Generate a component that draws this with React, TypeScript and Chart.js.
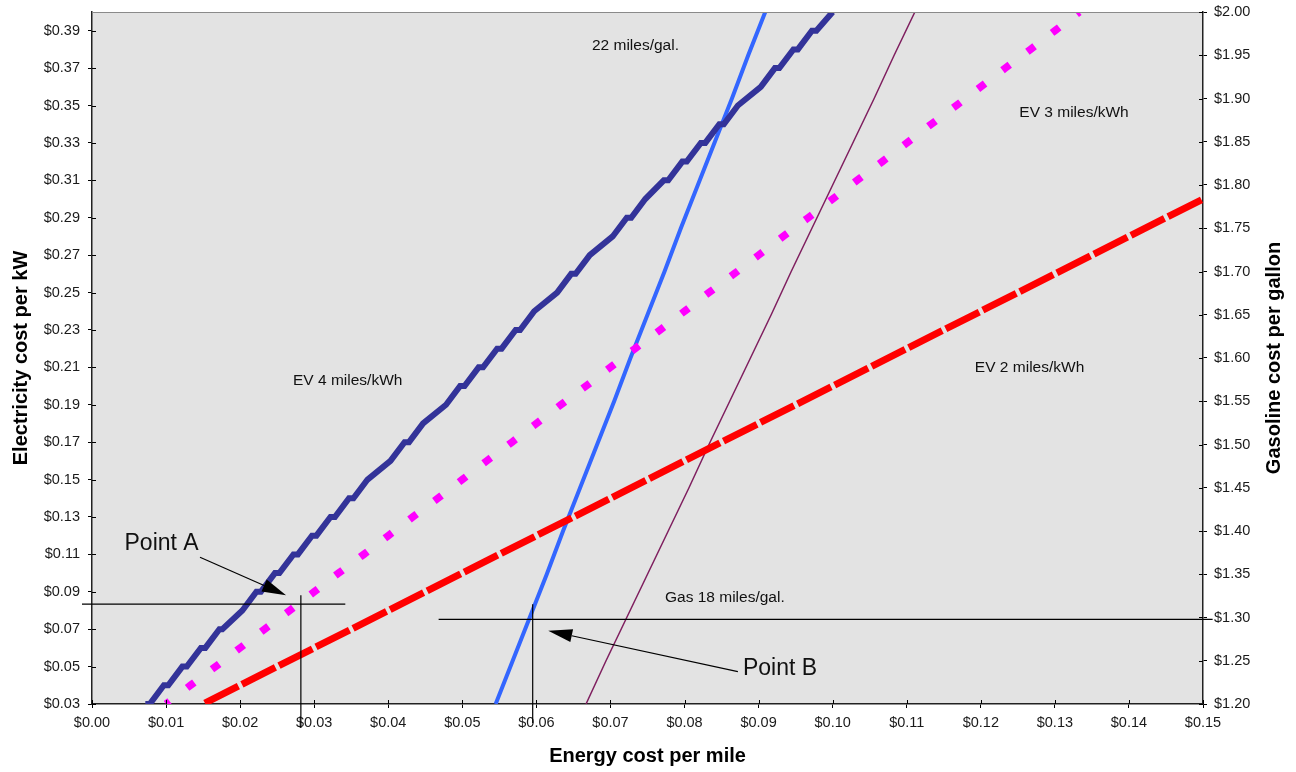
import React, { useEffect, useRef } from 'react';
import { Chart, registerables } from 'chart.js';

Chart.register(...registerables);

// ---------- axis ticks ----------
const xTicks = [0, 0.01, 0.02, 0.03, 0.04, 0.05, 0.06, 0.07, 0.08, 0.09, 0.1, 0.11, 0.12, 0.13, 0.14, 0.15];
const leftTicks = [0.03, 0.05, 0.07, 0.09, 0.11, 0.13, 0.15, 0.17, 0.19, 0.21, 0.23, 0.25, 0.27, 0.29, 0.31, 0.33, 0.35, 0.37, 0.39];
const rightTicks = [1.2, 1.25, 1.3, 1.35, 1.4, 1.45, 1.5, 1.55, 1.6, 1.65, 1.7, 1.75, 1.8, 1.85, 1.9, 1.95, 2.0];

// ---------- series: EV 4 miles/kWh  [cost per mile, electricity cost] ----------
const ev4Points: [number, number][] = [
  [0.0072, 0.03], [0.0078, 0.03], [0.0097, 0.04], [0.0103, 0.04], [0.0122, 0.05], [0.0128, 0.05],
  [0.0147, 0.06], [0.0153, 0.06], [0.0172, 0.07], [0.0176, 0.07], [0.0203, 0.08], [0.0222, 0.09],
  [0.0228, 0.09], [0.0247, 0.10], [0.0253, 0.10], [0.0272, 0.11], [0.0278, 0.11], [0.0297, 0.12],
  [0.0303, 0.12], [0.0322, 0.13], [0.0328, 0.13], [0.0347, 0.14], [0.0353, 0.14], [0.0372, 0.15],
  [0.0403, 0.16], [0.0422, 0.17], [0.0428, 0.17], [0.0447, 0.18], [0.0478, 0.19], [0.0497, 0.20],
  [0.0503, 0.20], [0.0522, 0.21], [0.0528, 0.21], [0.0547, 0.22], [0.0553, 0.22], [0.0572, 0.23],
  [0.0578, 0.23], [0.0597, 0.24], [0.0628, 0.25], [0.0647, 0.26], [0.0653, 0.26], [0.0672, 0.27],
  [0.0703, 0.28], [0.0722, 0.29], [0.0728, 0.29], [0.0747, 0.30], [0.0772, 0.31], [0.0778, 0.31],
  [0.0797, 0.32], [0.0803, 0.32], [0.0822, 0.33], [0.0828, 0.33], [0.0847, 0.34], [0.0853, 0.34],
  [0.0872, 0.35], [0.0903, 0.36], [0.0922, 0.37], [0.0928, 0.37], [0.0947, 0.38], [0.0953, 0.38],
  [0.0972, 0.39], [0.0978, 0.39], [0.1000, 0.40],
];

// ---------- EV 3 miles/kWh ----------
const ev3Cost = [0.03, 0.04, 0.05, 0.06, 0.07, 0.08, 0.09, 0.10, 0.11, 0.12, 0.13, 0.14, 0.15, 0.16, 0.17, 0.18, 0.19, 0.20, 0.21, 0.22, 0.23, 0.24, 0.25, 0.26, 0.27, 0.28, 0.29, 0.30, 0.31, 0.32, 0.33, 0.34, 0.35, 0.36, 0.37, 0.38, 0.39, 0.40];
const ev3Mile = [0.0100, 0.0133, 0.0167, 0.0200, 0.0233, 0.0267, 0.0300, 0.0333, 0.0367, 0.0400, 0.0433, 0.0467, 0.0500, 0.0533, 0.0567, 0.0600, 0.0633, 0.0667, 0.0700, 0.0733, 0.0767, 0.0800, 0.0833, 0.0867, 0.0900, 0.0933, 0.0967, 0.1000, 0.1033, 0.1067, 0.1100, 0.1133, 0.1167, 0.1200, 0.1233, 0.1267, 0.1300, 0.1333];

// ---------- EV 2 miles/kWh ----------
const ev2Cost = [0.03, 0.04, 0.05, 0.06, 0.07, 0.08, 0.09, 0.10, 0.11, 0.12, 0.13, 0.14, 0.15, 0.16, 0.17, 0.18, 0.19, 0.20, 0.21, 0.22, 0.23, 0.24, 0.25, 0.26, 0.27, 0.28, 0.29, 0.30];
const ev2Mile = [0.015, 0.020, 0.025, 0.030, 0.035, 0.040, 0.045, 0.050, 0.055, 0.060, 0.065, 0.070, 0.075, 0.080, 0.085, 0.090, 0.095, 0.100, 0.105, 0.110, 0.115, 0.120, 0.125, 0.130, 0.135, 0.140, 0.145, 0.150];

// ---------- gasoline cars (right axis) ----------
const gasPrice = [1.20, 1.25, 1.30, 1.35, 1.40, 1.45, 1.50, 1.55, 1.60, 1.65, 1.70, 1.75, 1.80, 1.85, 1.90, 1.95, 2.00];
const gas22Mile = [0.0545, 0.0568, 0.0591, 0.0614, 0.0636, 0.0659, 0.0682, 0.0705, 0.0727, 0.0750, 0.0773, 0.0795, 0.0818, 0.0841, 0.0864, 0.0886, 0.0909];
const gas18Mile = [0.0667, 0.0694, 0.0722, 0.0750, 0.0778, 0.0806, 0.0833, 0.0861, 0.0889, 0.0917, 0.0944, 0.0972, 0.1000, 0.1028, 0.1056, 0.1083, 0.1111];

const FONT = "'Liberation Sans', Arial, Helvetica, sans-serif";
const money = (v: any) => '$' + Number(v).toFixed(2);

const decorPlugin = {
  id: 'decor',
  beforeDraw(chart: any) {
    const { ctx, chartArea: a } = chart;
    ctx.save();
    ctx.fillStyle = '#E3E3E3';
    ctx.fillRect(a.left, a.top, a.right - a.left, a.bottom - a.top);
    ctx.restore();
  },
  afterDraw(chart: any) {
    const { ctx, chartArea: a, scales } = chart;
    const X = (v: number) => scales.x.getPixelForValue(v);
    const Y = (v: number) => scales.y.getPixelForValue(v);
    const Y2 = (v: number) => scales.y2.getPixelForValue(v);
    ctx.save();
    // top frame line
    ctx.strokeStyle = '#8a8a8a';
    ctx.lineWidth = 1.2;
    ctx.beginPath();
    ctx.moveTo(a.left, a.top + 0.5);
    ctx.lineTo(a.right, a.top + 0.5);
    ctx.stroke();
    // inner halves of tick marks
    ctx.strokeStyle = '#000';
    ctx.lineWidth = 1;
    ctx.beginPath();
    xTicks.forEach((v) => { const p = Math.round(X(v)) + 0.5; ctx.moveTo(p, a.bottom); ctx.lineTo(p, a.bottom - 4); });
    leftTicks.forEach((v) => { const p = Math.round(Y(v)) + 0.5; ctx.moveTo(a.left, p); ctx.lineTo(a.left + 4, p); });
    rightTicks.forEach((v) => { const p = Math.round(Y2(v)) + 0.5; ctx.moveTo(a.right, p); ctx.lineTo(a.right - 4, p); });
    ctx.stroke();

    // annotation lines
    const seg = (x1: number, y1: number, x2: number, y2: number) => {
      ctx.beginPath(); ctx.moveTo(x1, y1); ctx.lineTo(x2, y2); ctx.stroke();
    };
    const arrow = (x1: number, y1: number, x2: number, y2: number) => {
      const ang = Math.atan2(y2 - y1, x2 - x1);
      const len = 24, half = 6.5;
      const bx = x2 - len * Math.cos(ang), by = y2 - len * Math.sin(ang);
      seg(x1, y1, bx, by);
      ctx.beginPath();
      ctx.moveTo(x2, y2);
      ctx.lineTo(bx + half * Math.sin(ang), by - half * Math.cos(ang));
      ctx.lineTo(bx - half * Math.sin(ang), by + half * Math.cos(ang));
      ctx.closePath();
      ctx.fill();
    };
    ctx.strokeStyle = '#000';
    ctx.fillStyle = '#000';
    ctx.lineWidth = 1.2;
    // Point A guides
    seg(X(-0.00135), Y(0.0834), X(0.0342), Y(0.0834));
    seg(X(0.0282), Y(0.0882), X(0.0282), Y(0.0172));
    arrow(X(0.01458), Y(0.1085), X(0.0262), Y(0.0882));
    // Point B guides
    seg(X(0.0468), Y2(1.2978), X(0.1513), Y2(1.2978));
    seg(X(0.0595), Y(0.0833), X(0.0595), Y(0.0199));
    arrow(X(0.0872), Y2(1.2374), X(0.0616), Y2(1.2848));

    // text labels
    ctx.fillStyle = '#111';
    ctx.textAlign = 'left';
    ctx.textBaseline = 'alphabetic';
    ctx.font = `15.5px ${FONT}`;
    ctx.fillText('22 miles/gal.', X(0.0675), Y(0.3796));
    ctx.fillText('EV 4 miles/kWh', X(0.02714), Y(0.2004));
    ctx.fillText('EV 3 miles/kWh', X(0.1252), Y(0.3441));
    ctx.fillText('EV 2 miles/kWh', X(0.1192), Y(0.2075));
    ctx.fillText('Gas 18 miles/gal.', X(0.07736), Y(0.0848));
    ctx.font = `23px ${FONT}`;
    ctx.fillText('Point A', X(0.00439), Y(0.1125));
    ctx.fillText('Point B', X(0.08789), Y(0.0455));

    // axis titles
    ctx.fillStyle = '#000';
    ctx.font = `bold 20px ${FONT}`;
    ctx.textAlign = 'center';
    ctx.fillText('Energy cost per mile', (a.left + a.right) / 2, 762);
    ctx.save();
    ctx.translate(27, (a.top + a.bottom) / 2);
    ctx.rotate(-Math.PI / 2);
    ctx.fillText('Electricity cost per kW', 0, 0);
    ctx.restore();
    ctx.save();
    ctx.translate(1280, (a.top + a.bottom) / 2);
    ctx.rotate(-Math.PI / 2);
    ctx.fillText('Gasoline cost per gallon', 0, 0);
    ctx.restore();
    ctx.restore();
  },
};

export default function App() {
  const ref = useRef<HTMLCanvasElement | null>(null);
  useEffect(() => {
    if (!ref.current) return;
    const tickFont = { family: FONT, size: 14.5 };
    const chart = new Chart(ref.current, {
      type: 'line',
      data: {
        datasets: [
          {
            label: 'EV 4 miles/kWh',
            data: ev4Points.map(([x, y]) => ({ x, y })),
            yAxisID: 'y',
            borderColor: '#333399',
            borderWidth: 6,
            borderJoinStyle: 'miter',
            borderCapStyle: 'butt',
            clip: 0,
          },
          {
            label: 'EV 3 miles/kWh',
            data: ev3Mile.map((x, i) => ({ x, y: ev3Cost[i] })),
            yAxisID: 'y',
            borderColor: '#FF00FF',
            borderWidth: 7.5,
            borderDash: [9, 22],
            borderDashOffset: 4.5,
            borderCapStyle: 'butt',
            clip: 0,
          },
          {
            label: 'EV 2 miles/kWh',
            data: ev2Mile.map((x, i) => ({ x, y: ev2Cost[i] })),
            yAxisID: 'y',
            borderColor: '#FF0000',
            borderWidth: 7,
            borderDash: [37.5, 4],
            borderDashOffset: 39.5,
            borderCapStyle: 'butt',
            clip: 0,
          },
          {
            label: '22 miles/gal.',
            data: gas22Mile.map((x, i) => ({ x, y: gasPrice[i] })),
            yAxisID: 'y2',
            borderColor: '#3366FF',
            borderWidth: 4,
            clip: 0,
          },
          {
            label: 'Gas 18 miles/gal.',
            data: gas18Mile.map((x, i) => ({ x, y: gasPrice[i] })),
            yAxisID: 'y2',
            borderColor: '#7F1F5F',
            borderWidth: 1.5,
            clip: 0,
          },
        ] as any,
      },
      options: {
        animation: false,
        responsive: false,
        devicePixelRatio: 1,
        layout: { padding: { top: 12, left: 0, right: 0, bottom: 0 } },
        elements: { point: { radius: 0, hoverRadius: 0 }, line: { tension: 0 } },
        plugins: { legend: { display: false }, tooltip: { enabled: false } },
        events: [],
        scales: {
          x: {
            type: 'linear',
            min: 0,
            max: 0.15,
            afterBuildTicks: (s: any) => { s.ticks = xTicks.map((v) => ({ value: v })); },
            afterFit: (s: any) => { s.height = 68; s.paddingLeft = 0; s.paddingRight = 0; },
            ticks: { callback: money, font: tickFont, color: '#1a1a1a', padding: 6, autoSkip: false, maxRotation: 0 },
            grid: { drawOnChartArea: false, drawTicks: true, tickLength: 4, color: '#000' },
            border: { color: '#222', width: 1.5 },
          },
          y: {
            type: 'linear',
            position: 'left',
            min: 0.03,
            max: 0.40,
            afterBuildTicks: (s: any) => { s.ticks = leftTicks.map((v) => ({ value: v })); },
            afterFit: (s: any) => { s.width = 92; s.paddingTop = 0; s.paddingBottom = 0; },
            ticks: { callback: money, font: tickFont, color: '#1a1a1a', padding: 8, autoSkip: false },
            grid: { drawOnChartArea: false, drawTicks: true, tickLength: 4, color: '#000' },
            border: { color: '#222', width: 1.5 },
          },
          y2: {
            type: 'linear',
            position: 'right',
            min: 1.2,
            max: 2.0,
            afterBuildTicks: (s: any) => { s.ticks = rightTicks.map((v) => ({ value: v })); },
            afterFit: (s: any) => { s.width = 93; s.paddingTop = 0; s.paddingBottom = 0; },
            ticks: { callback: money, font: tickFont, color: '#1a1a1a', padding: 7, autoSkip: false },
            grid: { drawOnChartArea: false, drawTicks: true, tickLength: 4, color: '#000' },
            border: { color: '#222', width: 1.5 },
          },
        },
      } as any,
      plugins: [decorPlugin],
    });
    return () => chart.destroy();
  }, []);

  return (
    <div style={{ position: 'absolute', left: 0, top: 0, width: 1296, height: 772, background: '#fff' }}>
      <canvas ref={ref} width={1296} height={772} style={{ width: 1296, height: 772, display: 'block' }} />
    </div>
  );
}
